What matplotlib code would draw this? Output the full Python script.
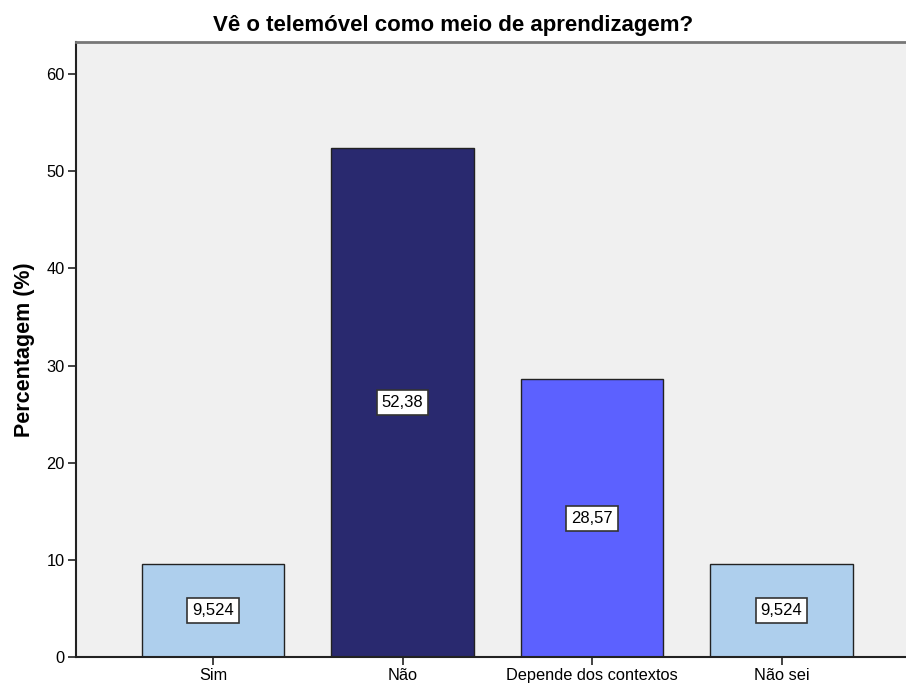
import numpy as np
import matplotlib
matplotlib.use('Agg')
import matplotlib.pyplot as plt

categories = ['Sim', 'Não', 'Depende dos contextos', 'Não sei']
values = [9.524, 52.38, 28.57, 9.524]
value_labels = ['9,524', '52,38', '28,57', '9,524']
bar_colors = ['#AECFED', '#29296F', '#5C61FF', '#AECFED']
yticks = [0, 10, 20, 30, 40, 50, 60]

plt.rcParams['font.family'] = ['Liberation Sans', 'DejaVu Sans']

fig = plt.figure(figsize=(9.06, 6.86), dpi=100)
# the frame runs past the right edge of the picture, so no right spine shows
ax = fig.add_axes([76/906, 1 - 657/686, (930-76)/906, (657-42)/686])
ax.set_facecolor('#F0F0F0')

x = np.arange(len(categories))
ax.bar(x, values, width=0.75, color=bar_colors, edgecolor='#222222', linewidth=1, zorder=2)

for xi, v, lab in zip(x, values, value_labels):
    ax.text(xi, v / 2, lab, ha='center', va='center', fontsize=12, zorder=3,
            bbox=dict(boxstyle='square,pad=0.3', facecolor='white', edgecolor='#333333', linewidth=1.2))

# 930 px right edge -> xlim upper limit
ax.set_xlim(-0.723, -0.723 + (930 - 76) / 189.5)
ax.set_ylim(0, 63.3)
ax.set_xticks(x)
ax.set_xticklabels(categories, fontsize=11.8)
ax.set_yticks(yticks)
ax.set_yticklabels([str(t) for t in yticks], fontsize=11.8)
ax.tick_params(axis='both', length=6, width=1.2, color='#222222', pad=2)

for side in ['left', 'bottom']:
    ax.spines[side].set_linewidth(1.5)
    ax.spines[side].set_color('#222222')
ax.spines['top'].set_linewidth(2)
ax.spines['top'].set_color('#777777')
ax.spines['right'].set_visible(False)

ax.set_ylabel('Percentagem (%)', fontsize=15.5, fontweight='bold', labelpad=8)
fig.text(0.5, 1 - 25/686, 'Vê o telemóvel como meio de aprendizagem?', ha='center', va='center',
         fontsize=16, fontweight='bold')

fig.savefig('out.png', dpi=100, facecolor='white')
